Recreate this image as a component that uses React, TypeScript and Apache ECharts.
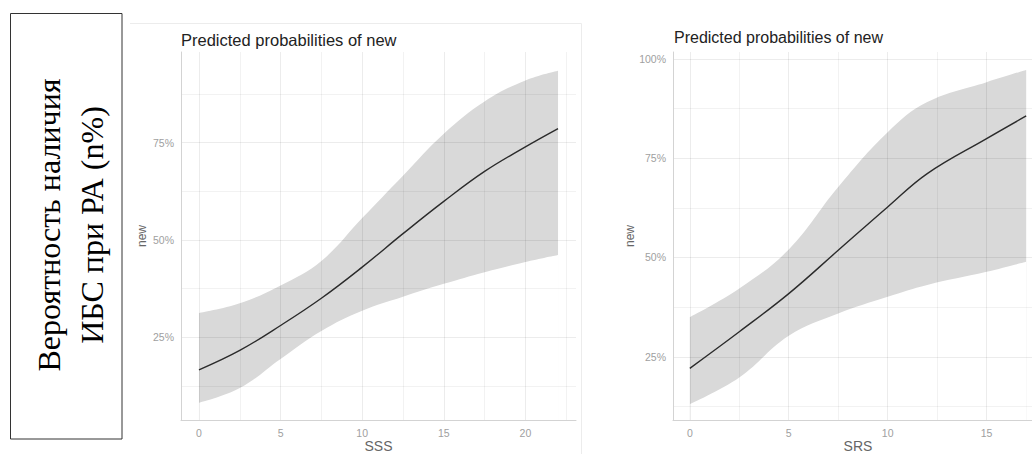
import React, { useEffect, useRef } from "react";
import * as echarts from "echarts";

// Left panel (SSS)
const sssX = [0, 2.5, 5, 7.5, 10, 12.5, 15, 17.5, 20, 22];
const sssFit = [16.6, 21.6, 28.0, 35.0, 43.0, 51.6, 59.9, 67.6, 73.9, 78.6];
const sssLower = [8.1, 11.9, 19.4, 26.6, 31.8, 35.4, 38.7, 41.7, 44.3, 46.1];
const sssUpper = [31.2, 33.7, 38.3, 44.6, 55.6, 66.5, 77.3, 85.6, 91.0, 93.5];
const sssTicks = [0, 5, 10, 15, 20];
const sssGrid = [0, 2.5, 5, 7.5, 10, 12.5, 15, 17.5, 20, 22.5];
const sssRange = [-1.1, 23.1];
const pctTicksL = [25, 50, 75];
const pctGridL = [12.5, 25, 37.5, 50, 62.5, 75, 87.5];
const pctRangeL = [3.7, 98.3];

// Right panel (SRS)
const srsX = [0, 2.5, 5, 7.5, 10, 12, 15, 17];
const srsFit = [22.1, 31.3, 40.9, 51.8, 62.7, 71.1, 79.9, 85.6];
const srsLower = [13.1, 19.8, 30.3, 35.9, 40.1, 43.1, 46.4, 48.9];
const srsUpper = [35.0, 42.2, 52.0, 67.7, 81.5, 89.1, 94.1, 97.2];
const srsTicks = [0, 5, 10, 15];
const srsGrid = [0, 2.5, 5, 7.5, 10, 12.5, 15, 17.5];
const srsRange = [-0.85, 17.85];
const pctTicksR = [25, 50, 75, 100];
const pctGridR = [12.5, 25, 37.5, 50, 62.5, 75, 87.5, 100];
const pctRangeR = [9.1, 101.7];

const titleText = "Predicted probabilities of new";
const yName = "new";
const boxLines = ["Вероятность наличия", "ИБС при РА (n%)"];

const SANS = "'Liberation Sans', Arial, sans-serif";
const SERIF = "'Liberation Serif', 'Times New Roman', serif";
const SMOOTH = 0.4;

function panelSeries(idx: number, xs: number[], fit: number[], lo: number[], up: number[], gx: number[], gy: number[]) {
  const lowerData = xs.map((x, i) => [x, lo[i]]);
  const upperData = xs.map((x, i) => [x, up[i]]);
  const fitData = xs.map((x, i) => [x, fit[i]]);
  const gridStyle = { color: "rgba(0,0,0,0.075)", width: 1, type: "solid" };
  const minorStyle = { color: "rgba(0,0,0,0.05)", width: 1, type: "solid" };
  const marks = [
    ...gx.map((v, i) => ({ xAxis: v, lineStyle: i % 2 === 0 ? gridStyle : minorStyle })),
    ...gy.map((v, i) => ({ yAxis: v, lineStyle: i % 2 === 1 ? gridStyle : minorStyle })),
  ];
  const common = { type: "line", xAxisIndex: idx, yAxisIndex: idx, symbol: "none", smooth: SMOOTH, silent: true };
  return [
    {
      ...common,
      data: upperData,
      lineStyle: { opacity: 0 },
      areaStyle: { color: "#d9d9d9", opacity: 1, origin: "start" },
      z: 1,
    },
    {
      ...common,
      data: lowerData,
      lineStyle: { opacity: 0 },
      areaStyle: { color: "#ffffff", opacity: 1, origin: "start" },
      z: 2,
    },
    {
      ...common,
      data: fitData,
      lineStyle: { opacity: 0 },
      z: 4,
      markLine: {
        silent: true,
        symbol: ["none", "none"],
        label: { show: false },
        data: marks,
        animation: false,
      },
    },
    {
      ...common,
      data: fitData,
      lineStyle: { color: "#2b2b2b", width: 1.4 },
      z: 5,
    },
  ];
}

function xAxisCfg(idx: number, range: number[], ticks: number[], name: string) {
  return {
    type: "value",
    gridIndex: idx,
    min: range[0],
    max: range[1],
    z: 6,
    name,
    nameLocation: "middle",
    nameGap: 19,
    nameMoveOverlap: false,
    nameTextStyle: { fontFamily: SANS, fontSize: 14, color: "#666" },
    axisLine: { show: true, onZero: false, lineStyle: { color: "#d3d3d3", width: 1 } },
    axisTick: { show: false },
    splitLine: { show: false },
    axisLabel: {
      customValues: ticks,
      margin: 7,
      fontFamily: SANS,
      fontSize: 10.5,
      color: "#a0a0a0",
    },
  };
}

function yAxisCfg(idx: number, range: number[], ticks: number[], gap: number) {
  return {
    type: "value",
    gridIndex: idx,
    min: range[0],
    max: range[1],
    z: 6,
    name: yName,
    nameLocation: "middle",
    nameGap: gap,
    nameMoveOverlap: false,
    nameTextStyle: { fontFamily: SANS, fontSize: 12, color: "#666" },
    axisLine: { show: true, onZero: false, lineStyle: { color: "#d3d3d3", width: 1 } },
    axisTick: { show: false },
    splitLine: { show: false },
    axisLabel: {
      customValues: ticks,
      margin: 7,
      fontFamily: SANS,
      fontSize: 10.5,
      color: "#a0a0a0",
      formatter: (v: number) => v + "%",
    },
  };
}

export default function App() {
  const ref = useRef<HTMLDivElement>(null);
  useEffect(() => {
    if (!ref.current) return;
    const chart = echarts.init(ref.current, undefined, { renderer: "svg" });
    chart.setOption({
      animation: false,
      backgroundColor: "#ffffff",
      title: [
        {
          text: titleText,
          left: 176,
          top: 26,
          textStyle: { fontFamily: SANS, fontSize: 16.5, fontWeight: "normal", color: "#222" },
        },
        {
          text: titleText,
          left: 669,
          top: 24,
          textStyle: { fontFamily: SANS, fontSize: 16, fontWeight: "normal", color: "#222" },
        },
      ],
      grid: [
        { left: 181, top: 52, width: 395, height: 368, containLabel: false, outerBoundsMode: "none" },
        { left: 673, top: 52, width: 370, height: 368, containLabel: false, outerBoundsMode: "none" },
      ],
      xAxis: [xAxisCfg(0, sssRange, sssTicks, "SSS"), xAxisCfg(1, srsRange, srsTicks, "SRS")],
      yAxis: [yAxisCfg(0, pctRangeL, pctTicksL, 33), yAxisCfg(1, pctRangeR, pctTicksR, 37)],
      series: [
        ...panelSeries(0, sssX, sssFit, sssLower, sssUpper, sssGrid, pctGridL),
        ...panelSeries(1, srsX, srsFit, srsLower, srsUpper, srsGrid, pctGridR),
      ],
      graphic: [
        {
          type: "polyline",
          shape: { points: [[130, 23.5], [581.5, 23.5], [581.5, 454]] },
          style: { stroke: "#ececec", lineWidth: 1, fill: null },
          silent: true,
        },
        {
          type: "rect",
          shape: { x: 10.5, y: 13.5, width: 111.5, height: 425.5 },
          style: { stroke: "#333", lineWidth: 1, fill: "#fff" },
          silent: true,
        },
        {
          type: "text",
          x: 49,
          y: 225,
          rotation: Math.PI / 2,
          style: {
            text: boxLines[0],
            fontFamily: SERIF,
            fontSize: 32,
            fill: "#000",
            align: "center",
            verticalAlign: "middle",
          },
          silent: true,
        },
        {
          type: "text",
          x: 92,
          y: 225,
          rotation: Math.PI / 2,
          style: {
            text: boxLines[1],
            fontFamily: SERIF,
            fontSize: 32,
            fill: "#000",
            align: "center",
            verticalAlign: "middle",
          },
          silent: true,
        },
      ],
    });
    return () => chart.dispose();
  }, []);
  return (
    <div
      ref={ref}
      style={{ position: "absolute", left: 0, top: 0, width: 1032, height: 454 }}
    />
  );
}
